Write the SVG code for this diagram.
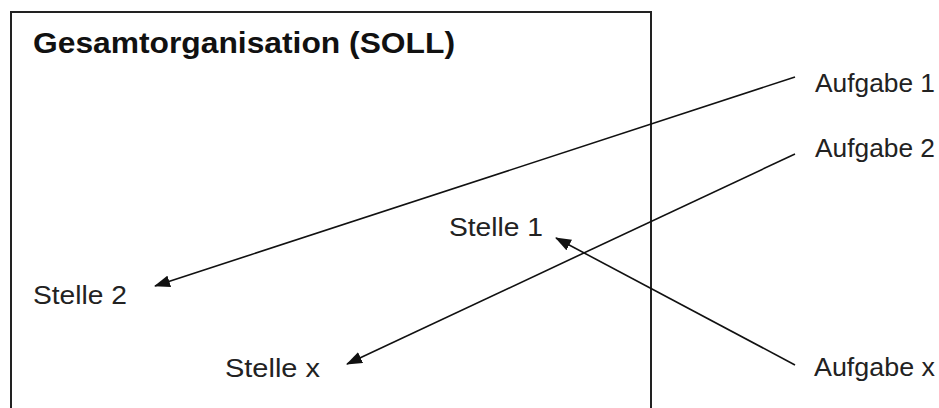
<svg xmlns="http://www.w3.org/2000/svg" width="939" height="408" viewBox="0 0 939 408">
  <defs>
    <marker id="arrow" viewBox="0 0 16 12" refX="15" refY="6" markerWidth="16" markerHeight="12" markerUnits="userSpaceOnUse" orient="auto">
      <path d="M0,0 L16,6 L0,12 Z" fill="#111"/>
    </marker>
    <style>
      .frame { fill: none; stroke: #222; stroke-width: 2; }
      .title { font-family: "Liberation Sans", Arial, sans-serif; font-weight: bold; font-size: 29px; fill: #111; }
      .label { font-family: "Liberation Sans", Arial, sans-serif; font-size: 26px; fill: #222; }
      .conn { fill: none; stroke: #111; stroke-width: 1.6; marker-end: url(#arrow); }
    </style>
  </defs>
  <rect width="939" height="408" fill="#fff"/>

  <!-- organisation frame (open at the bottom) -->
  <g id="organisation">
    <path class="frame" d="M11,420 L11,12 L651,12 L651,420"/>
    <text class="title" x="33" y="53" textLength="422" lengthAdjust="spacingAndGlyphs">Gesamtorganisation (SOLL)</text>
  </g>

  <g id="stelle1"><text class="label" x="449" y="236" textLength="94" lengthAdjust="spacingAndGlyphs">Stelle 1</text></g>
  <g id="stelle2"><text class="label" x="33" y="304" textLength="94" lengthAdjust="spacingAndGlyphs">Stelle 2</text></g>
  <g id="stellex"><text class="label" x="225" y="377" textLength="95" lengthAdjust="spacingAndGlyphs">Stelle x</text></g>

  <g id="aufgabe1"><text class="label" x="815" y="92" textLength="120" lengthAdjust="spacingAndGlyphs">Aufgabe 1</text></g>
  <g id="aufgabe2"><text class="label" x="815" y="157" textLength="120" lengthAdjust="spacingAndGlyphs">Aufgabe 2</text></g>
  <g id="aufgabex"><text class="label" x="814" y="376" textLength="121" lengthAdjust="spacingAndGlyphs">Aufgabe x</text></g>

  <!-- assignments of tasks to positions -->
  <g id="connectors">
    <line class="conn" x1="795" y1="77" x2="155" y2="286"/>
    <line class="conn" x1="795" y1="154" x2="347" y2="364"/>
    <line class="conn" x1="795" y1="365" x2="556" y2="238"/>
  </g>
</svg>
